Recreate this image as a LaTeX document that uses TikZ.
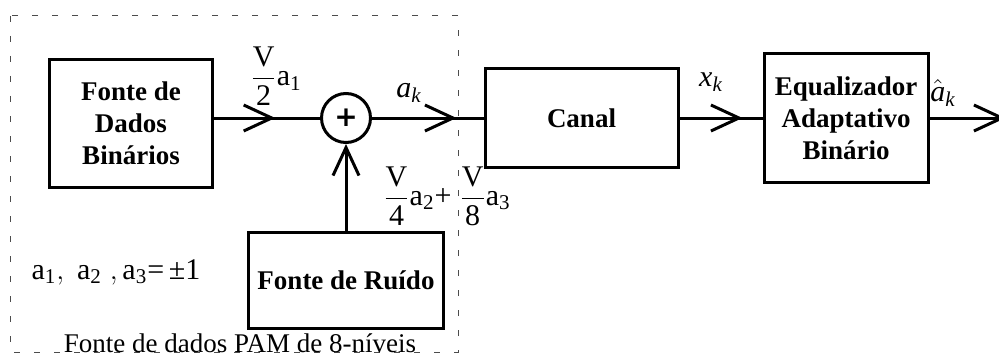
\documentclass[tikz,border=0pt]{standalone}
\usepackage{amsmath}
\usepackage{fontspec}
\setmainfont{Liberation Serif}
\newfontfamily\plusfont{DejaVu Sans}
\usetikzlibrary{arrows.meta,positioning,decorations.markings}

\begin{document}
\begin{tikzpicture}[
  x=0.5pt, y=-0.5pt,
  font=\fontsize{13.5}{16}\selectfont, node distance=40pt,
  >={Straight Barb[length=14pt,width=13pt]},
  blk/.style={rectangle,draw=black,line width=1.5pt,align=center,inner sep=2pt,font=\fontsize{13.5}{16}\selectfont\bfseries},
  sumc/.style={circle,draw=black,line width=1.5pt,minimum size=24.5pt,inner sep=0pt,font=\fontsize{14}{14}\selectfont\plusfont\bfseries},
  sig/.style={draw=black,line width=1.5pt},
  midarr/.style={postaction={decorate},decoration={markings,mark=at position #1 with {\arrow{>}}}},
  grp/.style={draw=black!70,line width=0.5pt,dash pattern=on 3pt off 7pt},
  lbl/.style={inner sep=1pt,font=\fontsize{15}{17}\selectfont}]
\useasboundingbox (0,0) rectangle (999,358);
% 8-level PAM source group
\draw[grp] (10,16) rectangle (458,352);
\node[sumc] (sum) at (346,118) {+};
\node[blk,minimum width=81.5pt,minimum height=63.5pt,left=53pt of sum,yshift=-2.75pt] (bin) {Fonte de\\Dados\\Binários};
\node[blk,minimum width=97.5pt,minimum height=48pt,below=43.25pt of sum] (ruido) {Fonte de Ruído};
\node[blk,minimum width=96.5pt,minimum height=49pt,right=55.75pt of sum] (canal) {Canal};
\node[blk,minimum width=82pt,minimum height=64pt,right=41.5pt of canal] (equ) {Equalizador\\Adaptativo\\Binário};
\coordinate[right=38pt of equ.east] (saida);
% labels
\node[lbl] (lv2) at (276,76) {$\dfrac{\text{V}}{\text{2}}\text{a}_{\text{1}}$};
\node[lbl] (lak) at (409,93) {$\textit{a}_{\textit{k}}$};
\node[lbl] (lv48) at (447,196) {$\dfrac{\text{V}}{\text{4}}\text{a}_{\text{2}}\text{+}\;\dfrac{\text{V}}{\text{8}}\text{a}_{\text{3}}$};
\node[lbl] (lxk) at (711,82) {$\textit{x}_{\textit{k}}$};
\node[lbl] (lhat) at (943,93) {$\hat{\textit{a}}_{\textit{k}}$};
\node[lbl] (lpm) at (116,272) {$\text{a}_{\text{1}},\;\text{a}_{\text{2}}\;,\text{a}_{\text{3}}\text{=}\,\text{±1}$};
\node[inner sep=1pt] (lpam) at (240,343) {Fonte de dados PAM de 8-níveis};
% signal path
\draw[sig,midarr=0.578] (bin.east |- sum) -- (sum.west);
\draw[sig,midarr=0.758] (sum) -- (canal);
\draw[sig,midarr=0.759] (canal) -- (equ);
\draw[sig,->] (equ) -- (saida);
\draw[sig,->] (ruido.north -| sum) -- (sum.south);
\end{tikzpicture}
\end{document}
